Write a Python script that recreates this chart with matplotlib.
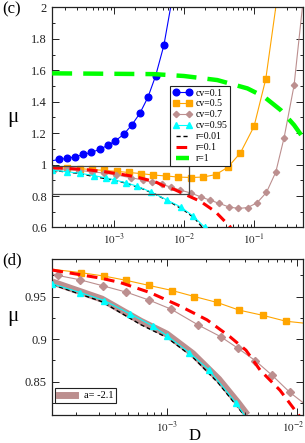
import numpy as np
import matplotlib
matplotlib.use('Agg')
import matplotlib.pyplot as plt
from matplotlib.ticker import MultipleLocator, LogLocator, FuncFormatter, NullFormatter
from matplotlib.patches import Rectangle
from matplotlib.lines import Line2D
from matplotlib.transforms import ScaledTranslation

plt.rcParams['font.family'] = ['Liberation Serif', 'DejaVu Serif']
plt.rcParams['mathtext.fontset'] = 'stix'

# values, D given as log10(D)
cv01_logD = [-3.88, -3.776, -3.661, -3.547, -3.433, -3.319, -3.204, -3.090, -2.976,
             -2.861, -2.747, -2.629, -2.514, -2.404, -2.286, -2.19]
cv01_mu = [1.025, 1.033, 1.041, 1.050, 1.065, 1.078, 1.097, 1.122, 1.152,
           1.192, 1.250, 1.326, 1.428, 1.564, 1.759, 2.0]

cv05_logD = [-3.88, -3.662, -3.482, -3.313, -3.136, -2.957, -2.788, -2.611, -2.442,
             -2.262, -2.082, -1.894, -1.723, -1.543, -1.371, -1.194, -1.0, -0.833, -0.69]
cv05_mu = [0.982, 0.978, 0.974, 0.969, 0.963, 0.957, 0.950, 0.943, 0.934,
           0.928, 0.921, 0.918, 0.921, 0.937, 0.984, 1.075, 1.243, 1.543, 2.0]

cv07_logD = [-3.88, -3.838, -3.667, -3.492, -3.313, -3.136, -2.967, -2.759, -2.585,
             -2.452, -2.318, -2.188, -2.052, -1.904, -1.761, -1.629, -1.494, -1.361,
             -1.223, -1.090, -0.957, -0.823, -0.690, -0.571, -0.429, -0.31]
cv07_mu = [0.9765, 0.9747, 0.9696, 0.9626, 0.9552, 0.9458, 0.9352, 0.9167, 0.9029,
           0.8893, 0.8747, 0.8575, 0.8375, 0.820, 0.795, 0.774, 0.753, 0.731,
           0.721, 0.727, 0.757, 0.823, 0.952, 1.171, 1.504, 2.0]

cv095_logD = [-3.885, -3.667, -3.482, -3.282, -3.108, -3.0, -2.826, -2.675, -2.467,
              -2.237, -2.047, -1.866, -1.70]
cv095_mu = [0.965, 0.9547, 0.9453, 0.9296, 0.9155, 0.9041, 0.8841, 0.8638, 0.8253,
            0.774, 0.731, 0.672, 0.60]

r001_logD = [-3.88, -3.5, -3.2, -3.0, -2.8, -2.6, -2.4, -2.2, -2.0, -1.85, -1.737]
r001_mu = [0.964, 0.944, 0.917, 0.902, 0.879, 0.848, 0.810, 0.763, 0.71, 0.66, 0.60]

r01_logD = [-3.88, -3.51, -3.36, -3.13, -2.90, -2.69, -2.515, -2.39, -2.282, -2.128,
            -1.975, -1.76, -1.55, -1.33]
r01_mu = [0.981, 0.9716, 0.9665, 0.9547, 0.939, 0.9226, 0.903, 0.887, 0.8638, 0.840,
          0.809, 0.765, 0.70, 0.60]

r1_logD = [-3.88, -2.43, -2.0, -1.523, -1.094, -0.857, -0.619, -0.429, -0.309, -0.28]
r1_mu = [1.581, 1.576, 1.564, 1.538, 1.485, 1.432, 1.347, 1.252, 1.177, 1.16]

a21_logD = [-3.88, -3.5, -3.2, -3.0, -2.8, -2.6, -2.45, -2.38]
a21_mu = [0.967, 0.947, 0.921, 0.906, 0.883, 0.853, 0.825, 0.811]

BLUE, ORANGE, BROWN, CYAN = '#0000ff', '#ffa500', '#bc8f8f', '#00ffff'
RED, GREEN = '#ff0000', '#00ff00'


def D(logs):
    return np.power(10.0, logs)


def style(ax):
    ax.set_xscale('log')
    ax.tick_params(which='both', direction='in', top=True, right=True,
                   labelsize=9, width=0.7, colors='#222222')
    ax.tick_params(axis='x', labelsize=8)
    ax.tick_params(which='major', length=5)
    ax.tick_params(which='minor', length=2.5)
    ax.xaxis.set_major_locator(LogLocator(base=10, numticks=12))
    ax.xaxis.set_minor_locator(LogLocator(base=10, subs=np.arange(2, 10), numticks=12))
    ax.xaxis.set_minor_formatter(NullFormatter())
    ax.xaxis.set_major_formatter(FuncFormatter(lambda v, p: '$10^{%d}$' % round(np.log10(v))))
    ax.yaxis.set_major_formatter(FuncFormatter(lambda v, p: '%g' % round(v, 3)))
    for s in ax.spines.values():
        s.set_color('#222222')
        s.set_linewidth(0.9)


def draw(ax, ms):
    ax.plot(D(cv01_logD), cv01_mu, color=BLUE, lw=0.8)
    ax.plot(D(cv01_logD[1:-1]), cv01_mu[1:-1], 'o', color=BLUE, ms=ms + 0.6)
    ax.plot(D(cv05_logD), cv05_mu, color=ORANGE, lw=0.8)
    ax.plot(D(cv05_logD[1:-1]), cv05_mu[1:-1], 's', color=ORANGE, ms=ms)
    ax.plot(D(cv07_logD), cv07_mu, color=BROWN, lw=0.8)
    ax.plot(D(cv07_logD[1:-1]), cv07_mu[1:-1], 'D', color=BROWN, ms=ms - 1)
    ax.plot(D(r001_logD), r001_mu, color='black', lw=1.0, dashes=(3, 2), zorder=3)
    ax.plot(D(cv095_logD), cv095_mu, color=CYAN, lw=0.8, marker='^', ms=ms, zorder=3.5)
    ax.plot(D(r01_logD), r01_mu, color=RED, lw=2.2, dashes=(3.5, 2.2), zorder=4)
    ax.plot(D(r1_logD), r1_mu, color=GREEN, lw=3.2, dashes=(4.5, 2.5), zorder=4)


fig = plt.figure(figsize=(3.05, 4.43), dpi=100)
axc = fig.add_axes([0.1695, 0.4865, 0.824, 0.4966])
axd = fig.add_axes([0.1695, 0.0632, 0.824, 0.3521])

# panel (c)
style(axc)
draw(axc, 4.2)
axc.set_xlim(1.3e-4, 0.5)
axc.set_ylim(0.6, 2.0)
axc.yaxis.set_major_locator(MultipleLocator(0.2))
axc.yaxis.set_minor_locator(MultipleLocator(0.1))
axc.add_patch(Rectangle((1.3e-4, 0.811), 0.0117 - 1.3e-4, 0.994 - 0.811,
                        fill=False, ec='#444444', lw=0.9, zorder=5))

handles = [
    Line2D([], [], color=BLUE, lw=0.8, marker='o', ms=4.8),
    Line2D([], [], color=ORANGE, lw=0.8, marker='s', ms=4.2),
    Line2D([], [], color=BROWN, lw=0.8, marker='D', ms=3.2),
    Line2D([], [], color=CYAN, lw=0.8, marker='^', ms=4.2),
    Line2D([], [], color='black', lw=1.0, dashes=(3, 2)),
    Line2D([], [], color=RED, lw=2.2, dashes=(3.5, 2.2)),
    Line2D([], [], color=GREEN, lw=3.2, dashes=(4.5, 2.5)),
]
labels = ['cv=0.1', 'cv=0.5', 'cv=0.7', 'cv=0.95', 'r=0.01', 'r=0.1', 'r=1']
leg = axc.legend(handles, labels, loc='upper left', bbox_to_anchor=(0.471, 0.645),
                 numpoints=2, fontsize=7, handlelength=1.9, handletextpad=0.4,
                 labelspacing=0.2, borderpad=0.3, borderaxespad=0, fancybox=False,
                 framealpha=1, edgecolor='#222222')
leg.get_frame().set_linewidth(0.8)
leg.set_zorder(6)

# panel (d)
style(axd)
axd.plot(D(a21_logD), a21_mu, color=BROWN, lw=5, solid_capstyle='butt', zorder=1.5)
draw(axd, 5)
axd.set_xlim(1.3e-4, 0.0112)
axd.set_ylim(0.811, 0.994)
axd.yaxis.set_major_locator(MultipleLocator(0.05))
axd.yaxis.set_minor_locator(MultipleLocator(0.025))
legd = axd.legend([Line2D([], [], color=BROWN, lw=5)], ['a= -2.1'], loc='lower left',
                  bbox_to_anchor=(0.015, 0.075), fontsize=7.5, handlelength=1.6,
                  handletextpad=0.8, borderpad=0.3, borderaxespad=0, fancybox=False,
                  framealpha=1, edgecolor='#222222')
legd.get_frame().set_linewidth(0.8)

fig.text(12 / 305, 1 - 9 / 443, '(c)', fontsize=12, ha='center', va='center')
fig.text(12.5 / 305, 1 - 260 / 443, '(d)', fontsize=12, ha='center', va='center')
fig.text(13 / 305, 1 - 117 / 443, '\u03bc', fontsize=15, ha='center', va='center')
fig.text(13 / 305, 1 - 316 / 443, '\u03bc', fontsize=15, ha='center', va='center')
fig.text(195 / 305, 1 - 436 / 443, 'D', fontsize=12, ha='center', va='center')

# nudge the 10^-2 label of (d) so it stays inside the figure
fig.canvas.draw()
for t in axd.xaxis.get_major_ticks():
    if abs(np.log10(t.get_loc()) + 2) < 1e-6:
        t.label1.set_transform(t.label1.get_transform()
                               + ScaledTranslation(-0.03, 0, fig.dpi_scale_trans))

fig.savefig('out.png', dpi=100)
